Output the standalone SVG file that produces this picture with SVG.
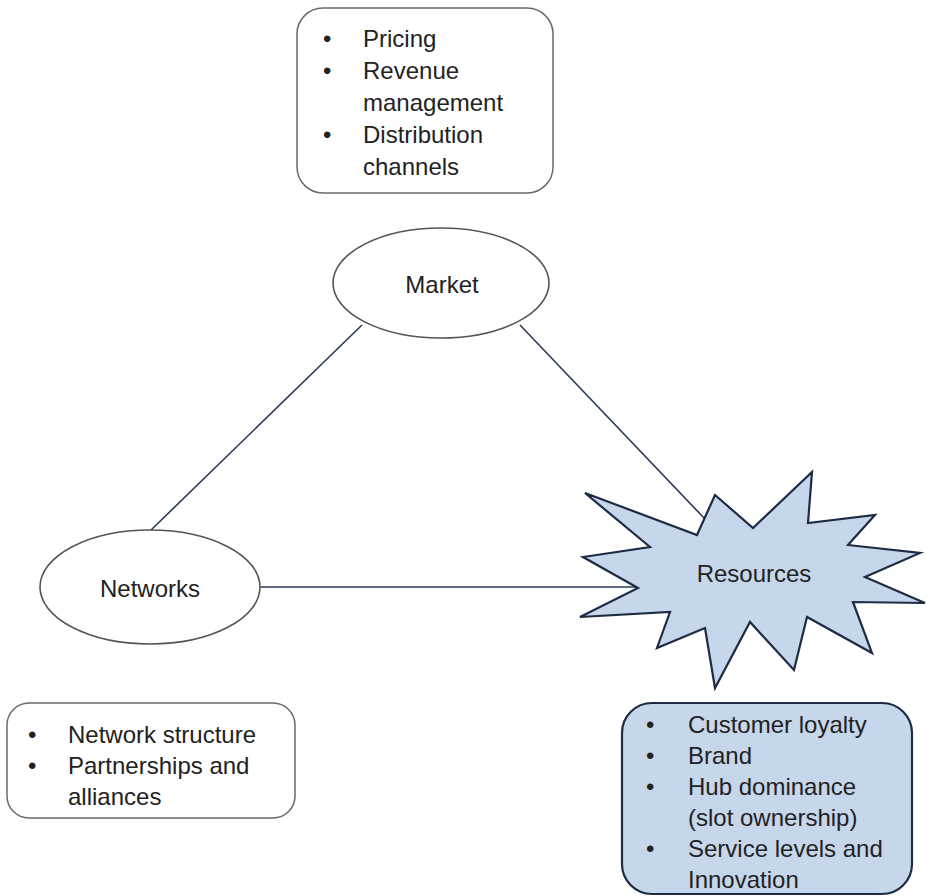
<svg xmlns="http://www.w3.org/2000/svg" width="927" height="896" viewBox="0 0 927 896">
  <style>
    text { font-family: "Liberation Sans", Arial, sans-serif; font-size: 24px; fill: #222; }
    .box { fill: #ffffff; stroke: #6a6a6a; stroke-width: 1.5; }
    .bluebox { fill: #c6d6eb; stroke: #1e2b45; stroke-width: 2.2; }
    .oval { fill: #ffffff; stroke: #555555; stroke-width: 1.6; }
    .link { stroke: #2b3a58; stroke-width: 1.6; fill: none; }
    .mid { text-anchor: middle; }
  </style>
  <rect width="927" height="896" fill="#ffffff"/>

  <g id="connectors">
    <line class="link" x1="362" y1="325" x2="150" y2="531"/>
    <line class="link" x1="520" y1="325" x2="704" y2="518"/>
    <line class="link" x1="260" y1="587" x2="638" y2="587"/>
  </g>

  <g id="market-notes">
    <rect class="box" x="297" y="8" width="256" height="185" rx="26"/>
    <text x="323" y="47">•</text><text x="363" y="47">Pricing</text>
    <text x="323" y="79">•</text><text x="363" y="79">Revenue</text>
    <text x="363" y="111">management</text>
    <text x="323" y="143">•</text><text x="363" y="143">Distribution</text>
    <text x="363" y="175">channels</text>
  </g>

  <g id="market">
    <ellipse class="oval" cx="441" cy="283" rx="108" ry="55"/>
    <text class="mid" x="442" y="293">Market</text>
  </g>

  <g id="networks">
    <ellipse class="oval" cx="150" cy="587" rx="110" ry="57"/>
    <text class="mid" x="150" y="597">Networks</text>
  </g>

  <g id="resources">
    <polygon class="bluebox" points="697,535 715,495 753,528 812,472 808,523 875,515 848,545 920,553 865,577 925,603 853,602 872,653 807,617 794,670 750,622 715,688 705,628 657,648 670,612 580,617 638,588 583,557 650,547 585,493"/>
    <text class="mid" x="754" y="582">Resources</text>
  </g>

  <g id="network-notes">
    <rect class="box" x="7" y="703" width="288" height="115" rx="22"/>
    <text x="28" y="743">•</text><text x="68" y="743">Network structure</text>
    <text x="28" y="774">•</text><text x="68" y="774">Partnerships and</text>
    <text x="68" y="805">alliances</text>
  </g>

  <g id="resource-notes">
    <rect class="bluebox" x="622" y="703" width="290" height="191" rx="30"/>
    <text x="646" y="733">•</text><text x="688" y="733">Customer loyalty</text>
    <text x="646" y="764">•</text><text x="688" y="764">Brand</text>
    <text x="646" y="795">•</text><text x="688" y="795">Hub dominance</text>
    <text x="688" y="826">(slot ownership)</text>
    <text x="646" y="857">•</text><text x="688" y="857">Service levels and</text>
    <text x="688" y="888">Innovation</text>
  </g>
</svg>
